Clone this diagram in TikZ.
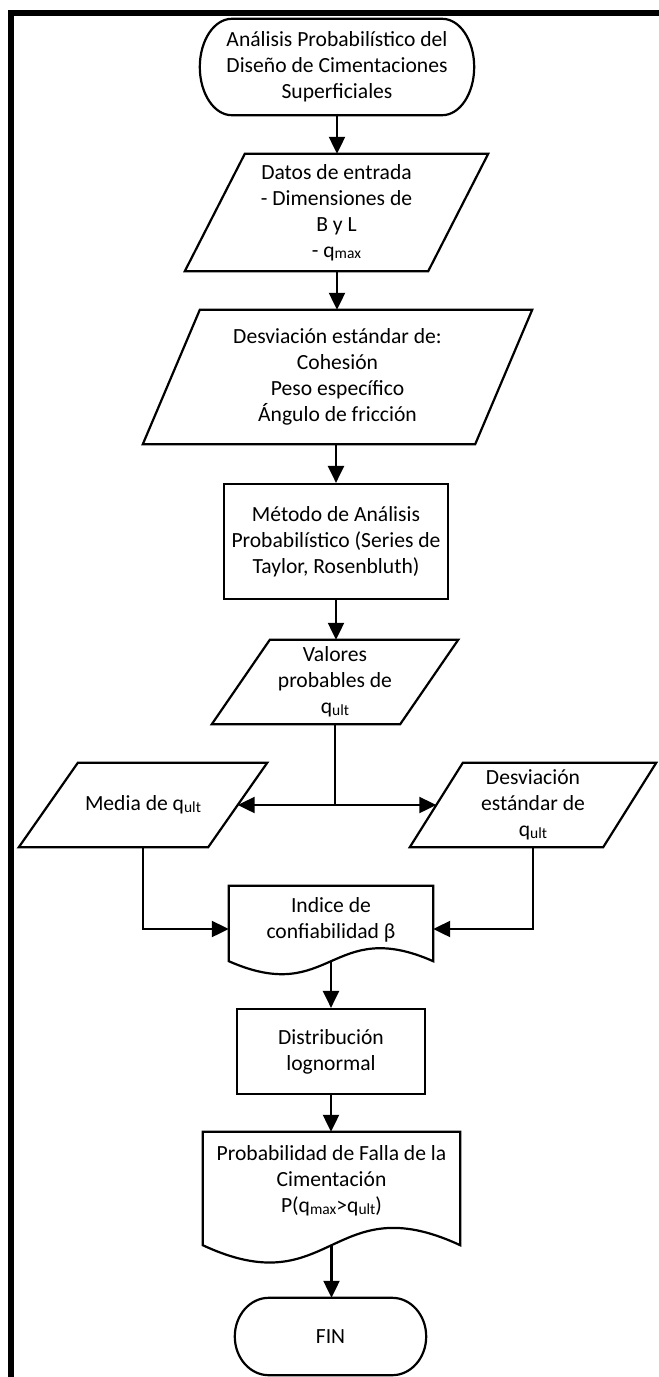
\documentclass[tikz,border=0pt]{standalone}
\usepackage{fontspec}
\setmainfont{Carlito}
\usetikzlibrary{arrows.meta,calc}

% small lowered index letters (q_max, q_ult)
\newcommand{\qs}[1]{\raisebox{-1.5pt}{\fontsize{15.5}{15.5}\selectfont #1}}

% terminator outline with elliptic ends: node name, horizontal end radius
\newcommand{\termpath}[2]{%
  \draw[shapeline] let \p1=(#1.north), \p2=(#1.south), \n1={(\y1-\y2)/2} in
    ([xshift=#2pt]#1.north west) -- ([xshift=-#2pt]#1.north east)
    arc[start angle=90, end angle=-90, x radius=#2pt, y radius=\n1]
    -- ([xshift=#2pt]#1.south west)
    arc[start angle=270, end angle=90, x radius=#2pt, y radius=\n1] -- cycle;}

% input/output parallelogram: node name, horizontal slant
\newcommand{\parpath}[2]{%
  \draw[shapeline] ([xshift=#2pt]#1.north west) -- (#1.north east)
    -- ([xshift=-#2pt]#1.south east) -- (#1.south west) -- cycle;}

% document outline with wavy bottom: node name, drop of the wave line, control offset
\newcommand{\docpath}[3]{%
  \coordinate (#1-b) at ([yshift=-#2pt]#1.south);
  \draw[shapeline] (#1.north west) -- (#1.north east) -- ([yshift=-#2pt]#1.south east)
    .. controls ($(#1-b)+(0,#3)$) and ($(#1-b)+(0,-#3)$) .. ([yshift=-#2pt]#1.south west) -- cycle;}

\begin{document}
\begin{tikzpicture}[x=1pt,y=1pt,
  every node/.style={font=\fontsize{21.6}{26}\selectfont, align=center, inner sep=0pt},
  box/.style={draw=none},
  procbox/.style={draw, line width=2.2pt},
  shapeline/.style={line width=2.2pt, line join=miter},
  arr/.style={line width=2.2pt, -{Triangle[length=17pt, width=16pt]}},
  plain/.style={line width=2.2pt}]

\useasboundingbox (0,0) rectangle (659,-1377);

% page frame (top and left rules)
\fill (8,-10) rectangle (659,-16);
\fill (8,-10) rectangle (14,-1377);

% nodes
\node[box, minimum width=274pt, minimum height=96pt] (start) at (337,-67)
  {Análisis Probabilístico del\\Diseño de Cimentaciones\\Superficiales};
\node[box, minimum width=303pt, minimum height=117pt] (datos) at (336.5,-212.5)
  {Datos de entrada\\- Dimensiones de\\B y L\\- q\qs{max}};
\node[box, minimum width=389pt, minimum height=134pt] (desv) at (337.5,-377)
  {Desviación estándar de:\\Cohesión\\Peso específico\\Ángulo de fricción};
\node[procbox, minimum width=224pt, minimum height=115pt] (metodo) at (336,-541.5)
  {Método de Análisis\\Probabilístico (Series de\\Taylor, Rosenbluth)};
\node[box, minimum width=246pt, minimum height=84pt] (valores) at (335,-682)
  {Valores\\probables de\\q\qs{ult}};
\node[box, minimum width=248pt, minimum height=84pt] (media) at (143,-805)
  {Media de q\qs{ult}};
\node[box, minimum width=246pt, minimum height=84pt] (desvq) at (533,-805)
  {Desviación\\estándar de\\q\qs{ult}};
\node[box, minimum width=204pt, minimum height=68pt] (indice) at (331,-920)
  {Indice de\\confiabilidad β};
\node[procbox, minimum width=188pt, minimum height=85pt] (distr) at (331,-1051.5)
  {Distribución\\lognormal};
\node[box, minimum width=257pt, minimum height=98pt] (prob) at (331.5,-1181)
  {Probabilidad de Falla de la\\Cimentación\\P(q\qs{max}>q\qs{ult})};
\node[box, minimum width=191pt, minimum height=77pt] (fin) at (330.5,-1336.5)
  {FIN};

% outlines
\termpath{start}{32}
\parpath{datos}{60}
\parpath{desv}{57}
\parpath{valores}{58}
\parpath{media}{59}
\parpath{desvq}{53}
\docpath{indice}{7}{45}
\docpath{prob}{15}{60}
\termpath{fin}{34}

% connectors
\coordinate (split) at (valores.south |- media.east);
\draw[arr] (start.south) -- (start.south |- datos.north);
\draw[arr] (datos.south -| start.south) -- (start.south |- desv.north);
\draw[arr] (desv.south -| metodo.north) -- (metodo.north);
\draw[arr] (metodo.south) -- (metodo.south |- valores.north);
\draw[plain] (valores.south) -- (split);
\draw[arr] (split) -- ([xshift=-29.5pt]media.east);
\draw[arr] (split) -- ([xshift=26.5pt]desvq.west);
\draw[arr] (media.south) |- ([yshift=-9pt]indice.west);
\draw[arr] (desvq.south) |- ([yshift=-9pt]indice.east);
\draw[arr] (indice-b) -- (distr.north);
\draw[arr] (distr.south) -- (distr.south |- prob.north);
\draw[arr] (prob-b) -- (prob-b |- fin.north);
\end{tikzpicture}
\end{document}
